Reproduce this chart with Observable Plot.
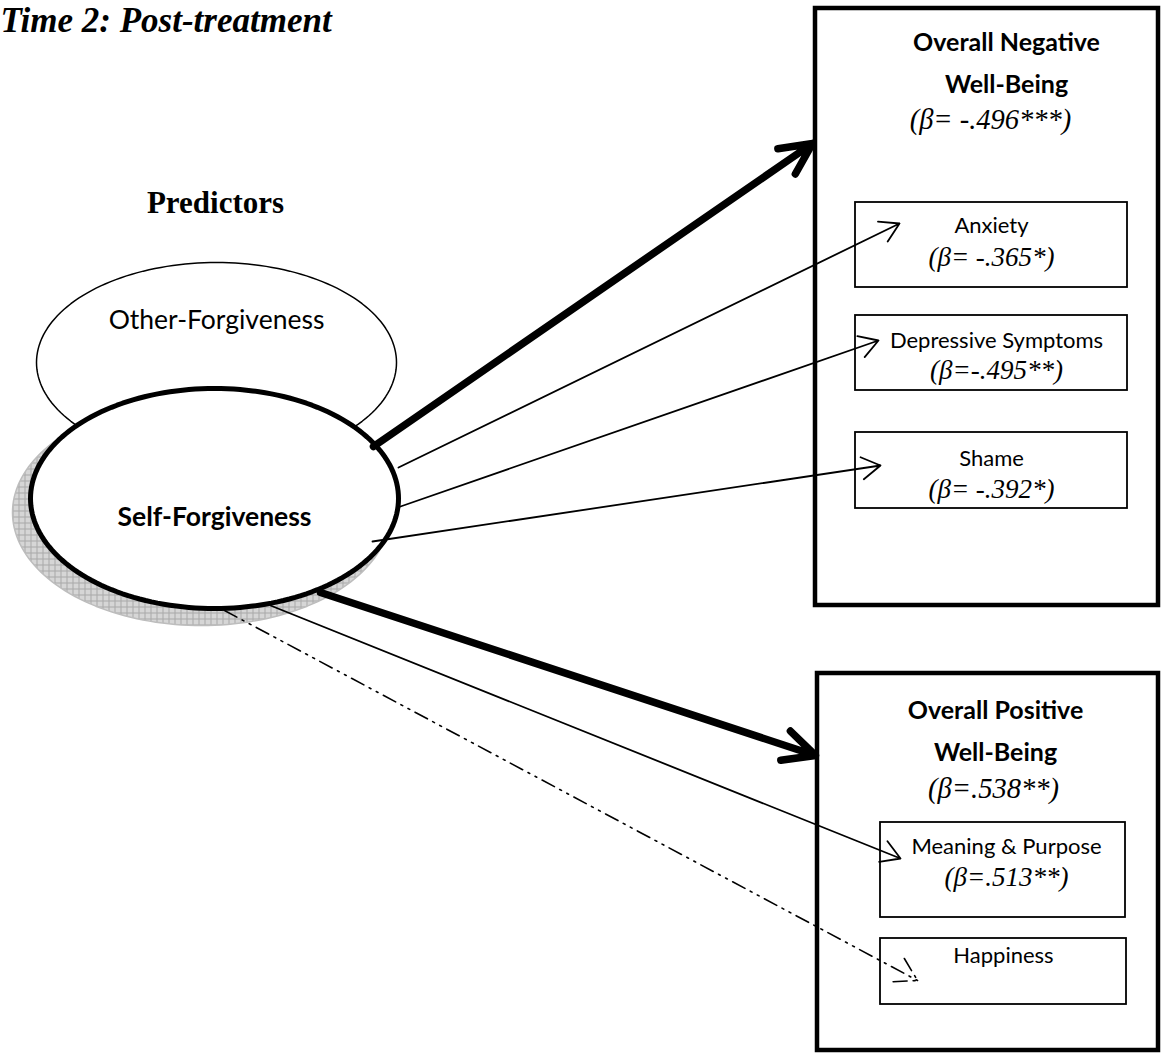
<!DOCTYPE html>
<html><head><meta charset="utf-8">
<script src="https://cdn.jsdelivr.net/npm/d3@7"></script>
<script src="https://cdn.jsdelivr.net/npm/@observablehq/plot@0.6"></script>
<style>body{margin:0;background:#fff}svg{display:block}</style>
</head><body><div id="chart"></div>
<script>
// ---- content ----
const title = "Time 2: Post-treatment";
const predictorHeading = "Predictors";
const predictors = ["Other-Forgiveness", "Self-Forgiveness"];
const groups = ["Overall Negative Well-Being", "Overall Positive Well-Being"];
const groupBetas = ["(β= -.496***)", "(β=.538**)"];
const outcomes = ["Anxiety", "Depressive Symptoms", "Shame", "Meaning & Purpose", "Happiness"];
const outcomeBetas = ["(β= -.365*)", "(β=-.495**)", "(β= -.392*)", "(β=.513**)", ""];
const pathTargets = ["Overall Negative Well-Being", "Anxiety", "Depressive Symptoms", "Shame",
                     "Overall Positive Well-Being", "Meaning & Purpose", "Happiness"];
const pathKind = ["overall", "significant", "significant", "significant", "overall", "significant", "ns"];

// ---- layout (diagram geometry, pixels) ----
const W = 1163, H = 1055;
const ellipseLayout = {
  "Other-Forgiveness": {cx: 216, cy: 362, rx: 180, ry: 100, label: 328},
  "Self-Forgiveness": {cx: 214, cy: 498, rx: 184, ry: 110, label: 525}
};
const shadowLayout = {cx: 201, cy: 512, rx: 189, ry: 113};
const groupLayout = {
  "Overall Negative Well-Being": {x1: 815, x2: 1158, y1: 8, y2: 605, tx: 1006, l1: 50, l2: 92, bx: 990, b: 128},
  "Overall Positive Well-Being": {x1: 817, x2: 1158, y1: 673, y2: 1050, tx: 995, l1: 718, l2: 760, bx: 993, b: 797}
};
const outcomeLayout = {
  "Anxiety": {x1: 855, x2: 1127, y1: 202, y2: 287, tx: 991, t: 232, b: 265},
  "Depressive Symptoms": {x1: 855, x2: 1127, y1: 315, y2: 390, tx: 996, t: 347, b: 378},
  "Shame": {x1: 855, x2: 1127, y1: 432, y2: 508, tx: 991, t: 465, b: 497},
  "Meaning & Purpose": {x1: 880, x2: 1125, y1: 822, y2: 917, tx: 1006, t: 853, b: 885},
  "Happiness": {x1: 880, x2: 1126, y1: 938, y2: 1004, tx: 1003, t: 962, b: 990}
};
const pathLayout = {
  "Overall Negative Well-Being": [373, 446, 812, 143],
  "Anxiety": [398, 467, 899, 223],
  "Depressive Symptoms": [400, 506, 878, 340],
  "Shame": [372, 541, 880, 465],
  "Overall Positive Well-Being": [320, 592, 815, 755],
  "Meaning & Purpose": [270, 605, 900, 858],
  "Happiness": [224, 610, 917, 980]
};

// ---- derived tables ----
function outline(e, n = 180) {
  return d3.range(n).map(i => {
    const t = (i / n) * 2 * Math.PI;
    return {x: e.cx + e.rx * Math.cos(t), y: e.cy + e.ry * Math.sin(t)};
  });
}
const groupRows = groups.map((g, i) => ({name: g, beta: groupBetas[i], ...groupLayout[g],
  line1: g.replace(/ Well-Being$/, ""), line2: "Well-Being"}));
const outcomeRows = outcomes.map((o, i) => ({name: o, beta: outcomeBetas[i], ...outcomeLayout[o]}));
const pathRows = pathTargets.map((t, i) => {
  const [x1, y1, x2, y2] = pathLayout[t];
  return {target: t, kind: pathKind[i], x1, y1, x2, y2};
});
const ellipseRows = predictors.map(p => ({name: p, ...ellipseLayout[p]}));

const sans = "Lato, 'Open Sans', sans-serif";
const serif = "'Liberation Serif', 'DejaVu Serif', serif";
const arrowXY = {x1: "x1", y1: "y1", x2: "x2", y2: "y2", stroke: "black"};

const plot = Plot.plot({
  width: W, height: H,
  margin: 0,
  x: {domain: [0, W], range: [0, W], axis: null},
  y: {domain: [0, H], range: [0, H], axis: null},
  style: {background: "white", overflow: "visible"},
  marks: [
    // shadow of self-forgiveness
    Plot.line(outline(shadowLayout), {x: "x", y: "y", curve: "linear-closed", fill: "url(#hatch)", stroke: "#bdbdbd", strokeWidth: 1.5}),
    // other-forgiveness
    Plot.line(outline(ellipseLayout["Other-Forgiveness"]), {x: "x", y: "y", curve: "linear-closed", fill: "white", stroke: "black", strokeWidth: 1.5}),
    // self-forgiveness
    Plot.line(outline(ellipseLayout["Self-Forgiveness"]), {x: "x", y: "y", curve: "linear-closed", fill: "white", stroke: "black", strokeWidth: 5}),
    // ellipse labels
    Plot.text(ellipseRows.filter(d => d.name === "Other-Forgiveness"), {x: "cx", y: "label", text: "name", lineAnchor: "bottom", fontSize: 26.5, fontFamily: sans, fill: "black"}),
    Plot.text(ellipseRows.filter(d => d.name === "Self-Forgiveness"), {x: "cx", y: "label", text: "name", lineAnchor: "bottom", fontSize: 26.5, fontWeight: "bold", fontFamily: sans, fill: "black"}),
    // group boxes
    Plot.rect(groupRows, {x1: "x1", x2: "x2", y1: "y1", y2: "y2", fill: "none", stroke: "black", strokeWidth: 4.5}),
    // outcome boxes
    Plot.rect(outcomeRows, {x1: "x1", x2: "x2", y1: "y1", y2: "y2", fill: "white", stroke: "black", strokeWidth: 1.8}),
    // paths
    Plot.arrow(pathRows.filter(d => d.kind === "overall"), {...arrowXY, strokeWidth: 7.5, headLength: 7, headAngle: 52}),
    Plot.arrow(pathRows.filter(d => d.kind === "significant"), {...arrowXY, strokeWidth: 1.8, headLength: 18, headAngle: 62}),
    Plot.arrow(pathRows.filter(d => d.kind === "ns"), {...arrowXY, strokeWidth: 1.6, headLength: 24, headAngle: 62, strokeDasharray: "14,6,2,6,2,6"}),
    // group texts
    Plot.text(groupRows, {x: "tx", y: "l1", text: "line1", lineAnchor: "bottom", fontSize: 25, fontWeight: "bold", fontFamily: sans, fill: "black"}),
    Plot.text(groupRows, {x: "tx", y: "l2", text: "line2", lineAnchor: "bottom", fontSize: 25, fontWeight: "bold", fontFamily: sans, fill: "black"}),
    Plot.text(groupRows, {x: "bx", y: "b", text: "beta", lineAnchor: "bottom", fontSize: 28.5, fontStyle: "italic", fontFamily: serif, fill: "black"}),
    // outcome texts
    Plot.text(outcomeRows, {x: "tx", y: "t", text: "name", lineAnchor: "bottom", fontSize: 22, fontFamily: sans, fill: "black"}),
    Plot.text(outcomeRows, {x: "tx", y: "b", text: "beta", lineAnchor: "bottom", fontSize: 27, fontStyle: "italic", fontFamily: serif, fill: "black"}),
    // headings
    Plot.text([title], {x: () => 0, y: () => 31, text: d => d, textAnchor: "start", lineAnchor: "bottom", fontSize: 35, fontWeight: "bold", fontStyle: "italic", fontFamily: serif, fill: "black"}),
    Plot.text([predictorHeading], {x: () => 215, y: () => 212, text: d => d, lineAnchor: "bottom", fontSize: 31, fontWeight: "bold", fontFamily: serif, fill: "black"})
  ]
});

// hatch pattern for the shadow
const svg = d3.select(plot);
const defs = svg.insert("defs", ":first-child");
const pat = defs.append("pattern").attr("id", "hatch").attr("patternUnits", "userSpaceOnUse").attr("width", 6).attr("height", 6);
pat.append("rect").attr("width", 6).attr("height", 6).attr("fill", "#d6d6d6");
pat.append("path").attr("d", "M0,0.5H6M0.5,0V6").attr("stroke", "#a8a8a8").attr("stroke-width", 1);

document.getElementById("chart").append(plot);
</script>
</body></html>
